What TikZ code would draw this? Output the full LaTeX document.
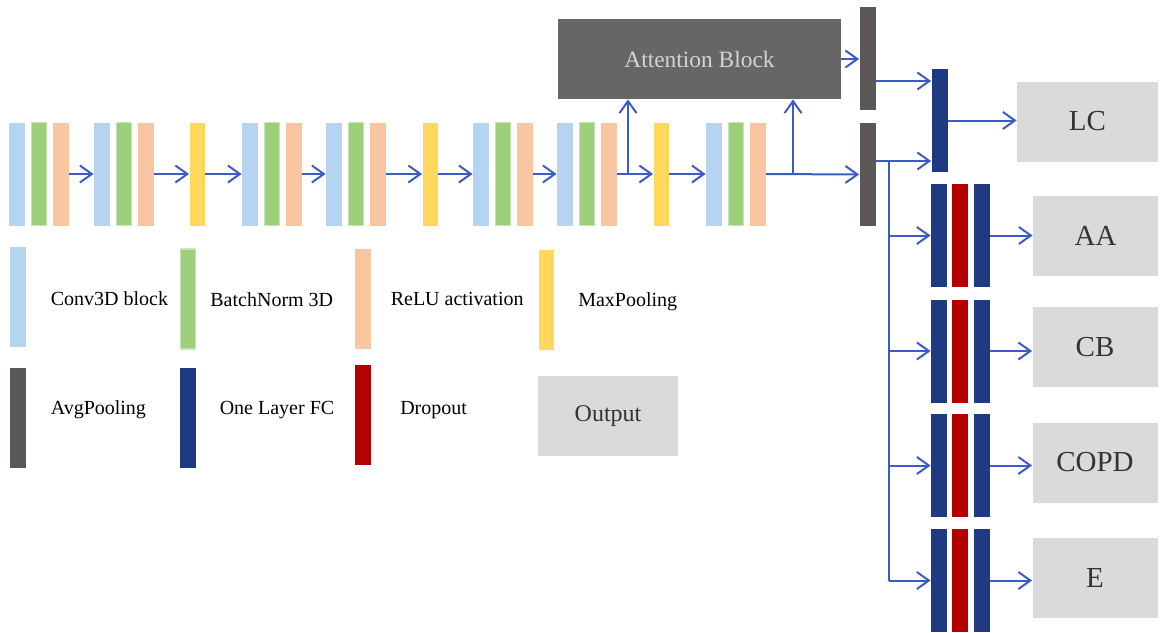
\documentclass[tikz,border=0pt]{standalone}
\usepackage{fontspec}
\setmainfont{Liberation Serif}
\usepackage{xcolor}
\usetikzlibrary{positioning,arrows.meta}
\definecolor{convblue}{HTML}{B4D4F2}
\definecolor{bngreen}{HTML}{9BCF7A}
\definecolor{bnedge}{HTML}{C6E4B4}
\definecolor{reluorange}{HTML}{F9C6A2}
\definecolor{mpyellow}{HTML}{FFD75A}
\definecolor{apgray}{HTML}{5B5757}
\definecolor{fcnavy}{HTML}{1E3A80}
\definecolor{dropred}{HTML}{B40000}
\definecolor{outgray}{HTML}{DADADA}
\definecolor{outtext}{HTML}{333333}
\definecolor{attgray}{HTML}{666666}
\definecolor{attext}{HTML}{D4D4D4}
\definecolor{arrblue}{HTML}{3B5CC6}

\begin{document}
\begin{tikzpicture}[x=0.5pt,y=-0.5pt]%
  \tikzstyle{layer}=[rectangle,inner sep=0,minimum width=8pt,minimum height=51.5pt]
  \tikzstyle{convl}=[layer,fill=convblue]
  \tikzstyle{bnl}=[layer,fill=bngreen,draw=bnedge,line width=0.6pt,minimum width=7.4pt]
  \tikzstyle{relul}=[layer,fill=reluorange]
  \tikzstyle{maxl}=[layer,fill=mpyellow,minimum width=7.5pt]
  \tikzstyle{avgl}=[layer,fill=apgray]
  \tikzstyle{fcl}=[layer,fill=fcnavy]
  \tikzstyle{dropl}=[layer,fill=dropred]
  \tikzstyle{legbar}=[minimum height=50pt]
  \tikzstyle{outbox}=[rectangle,fill=outgray,text=outtext,minimum width=62.5pt,minimum height=40pt,font=\fontsize{14.5}{16}\selectfont]
  \tikzstyle{legtext}=[inner sep=0,anchor=west,font=\fontsize{10}{12}\selectfont]
  \tikzstyle{link}=[draw=arrblue,line width=1pt]
  \tikzstyle{arr}=[link,-{Straight Barb[length=6pt,width=8.5pt]}]
  \useasboundingbox (0,0) rectangle (1167,632);
  % feature extractor
  \node[convl] (c1a) at (17,174) {};
  \node[bnl,right=2.75pt of c1a] (c1b) {};
  \node[relul,right=2.75pt of c1b] (c1c) {};
  \node[convl] (c2a) at (102,174) {};
  \node[bnl,right=2.75pt of c2a] (c2b) {};
  \node[relul,right=2.75pt of c2b] (c2c) {};
  \node[maxl] (m1) at (197,174) {};
  \node[convl] (c3a) at (250,174) {};
  \node[bnl,right=2.75pt of c3a] (c3b) {};
  \node[relul,right=2.75pt of c3b] (c3c) {};
  \node[convl] (c4a) at (334,174) {};
  \node[bnl,right=2.75pt of c4a] (c4b) {};
  \node[relul,right=2.75pt of c4b] (c4c) {};
  \node[maxl] (m2) at (430,174) {};
  \node[convl] (c5a) at (481,174) {};
  \node[bnl,right=2.75pt of c5a] (c5b) {};
  \node[relul,right=2.75pt of c5b] (c5c) {};
  \node[convl] (c6a) at (565,174) {};
  \node[bnl,right=2.75pt of c6a] (c6b) {};
  \node[relul,right=2.75pt of c6b] (c6c) {};
  \node[maxl] (m3) at (661,174) {};
  \node[convl] (c7a) at (714,174) {};
  \node[bnl,right=2.75pt of c7a] (c7b) {};
  \node[relul,right=2.75pt of c7b] (c7c) {};
  \node[rectangle,fill=attgray,text=attext,minimum width=141.5pt,minimum height=40pt,
        font=\fontsize{11.7}{14}\selectfont] (att) at (699.5,59) {Attention Block};
  \node[avgl] (p1) at (867.5,58.5) {};
  \node[avgl] (p2) at (867.5,174.5) {};
  \draw[arr] (c1c.east) -- (c2a.west);
  \draw[arr] (c2c.east) -- (m1.west);
  \draw[arr] (m1.east) -- (c3a.west);
  \draw[arr] (c3c.east) -- (c4a.west);
  \draw[arr] (c4c.east) -- (m2.west);
  \draw[arr] (m2.east) -- (c5a.west);
  \draw[arr] (c5c.east) -- (c6a.west);
  \draw[arr] (c6c.east) -- (m3.west);
  \draw[arr] (m3.east) -- (c7a.west);
  \draw[arr] (c7c.east) -- (p2.west);
  \coordinate (br1) at (628,174);
  \coordinate (br2) at (793,174);
  \draw[arr] (br1) -- (br1 |- att.south);
  \draw[arr] (br2) -- (br2 |- att.south);
  \draw[arr] (att.east) -- (att.east -| p1.west);
  % heads
  \node[fcl] (fc) at (939.5,120.5) {};
  \node[outbox,minimum width=70.5pt] (lc) at (1087.5,121.5) {LC};
  \coordinate (up) at (876,81);
  \coordinate (sp) at (889,161);
  \draw[arr] (up) -- (up -| fc.west);
  \draw[arr] (p2.east |- sp) -- (sp -| fc.west);
  \draw[arr] (fc.east) -- (fc.east -| lc.west);
  \node[fcl] (aa1) at (939,235.5) {};
  \node[dropl,right=2.25pt of aa1] (aa2) {};
  \node[fcl,right=2.25pt of aa2] (aa3) {};
  \node[fcl] (cb1) at (939,351) {};
  \node[dropl,right=2.25pt of cb1] (cb2) {};
  \node[fcl,right=2.25pt of cb2] (cb3) {};
  \node[fcl] (cp1) at (939,465.5) {};
  \node[dropl,right=2.25pt of cp1] (cp2) {};
  \node[fcl,right=2.25pt of cp2] (cp3) {};
  \node[fcl] (e1) at (939,580.5) {};
  \node[dropl,right=2.25pt of e1] (e2) {};
  \node[fcl,right=2.25pt of e2] (e3) {};
  \node[outbox] (aa) at (1095.5,236) {AA};
  \node[outbox] (cb) at (1095,347) {CB};
  \node[outbox] (copd) at (1095,462.5) {COPD};
  \node[outbox] (e) at (1095,577.5) {E};
  \draw[link] (sp) -- (sp |- e1.west);
  \draw[arr] (sp |- aa1.west) -- (aa1.west);
  \draw[arr] (sp |- cb1.west) -- (cb1.west);
  \draw[arr] (sp |- cp1.west) -- (cp1.west);
  \draw[arr] (sp |- e1.west) -- (e1.west);
  \draw[arr] (aa3.east) -- (aa3.east -| aa.west);
  \draw[arr] (cb3.east) -- (cb3.east -| cb.west);
  \draw[arr] (cp3.east) -- (cp3.east -| copd.west);
  \draw[arr] (e3.east) -- (e3.east -| e.west);
  % legend
  \node[convl,legbar] (lgconv) at (18,297) {};
  \node[bnl,legbar] (lgbn) at (188,299) {};
  \node[relul,legbar] (lgrelu) at (363,299) {};
  \node[maxl,legbar] (lgmax) at (546,300) {};
  \node[avgl,legbar] (lgavg) at (18,418) {};
  \node[fcl,legbar] (lgfc) at (188,418) {};
  \node[dropl,legbar] (lgdrop) at (362.5,414.5) {};
  \node[outbox,minimum width=70pt,font=\fontsize{12}{14}\selectfont] (lgout) at (608,416) {Output};
  \node[legtext,right=12pt of lgconv,yshift=-1pt] {Conv3D block};
  \node[legtext,right=7pt of lgbn,yshift=-0.5pt] {BatchNorm 3D};
  \node[legtext,right=9.5pt of lgrelu] {ReLU activation};
  \node[legtext,right=12pt of lgmax,yshift=-1pt] {MaxPooling};
  \node[legtext,right=12pt of lgavg,yshift=4pt] {AvgPooling};
  \node[legtext,right=11.5pt of lgfc,yshift=4pt] {One Layer FC};
  \node[legtext,right=14.5pt of lgdrop,yshift=2pt] {Dropout};
\end{tikzpicture}
\end{document}
